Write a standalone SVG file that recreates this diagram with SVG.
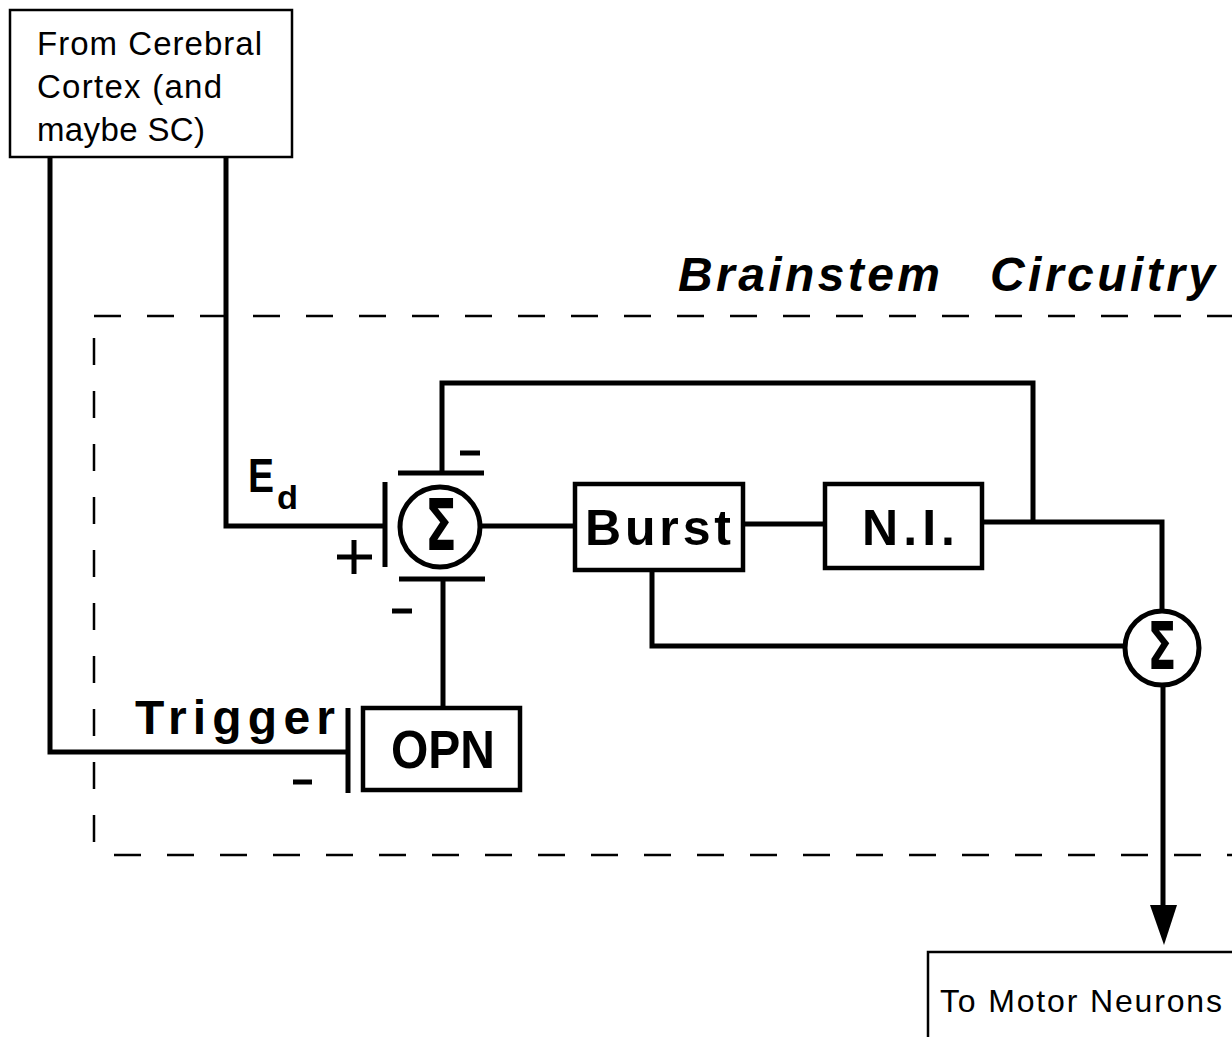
<svg xmlns="http://www.w3.org/2000/svg" width="1232" height="1037" viewBox="0 0 1232 1037">
<style>
.box{fill:#fff;stroke:#000;stroke-width:2.5}
.bbox{fill:#fff;stroke:#000;stroke-width:4.5}
.w{fill:none;stroke:#000;stroke-width:5}
.d{fill:none;stroke:#000;stroke-width:2.5;stroke-dasharray:27 26}
.t{font-family:"Liberation Sans",Arial,sans-serif;font-size:33px;fill:#000}
.b{font-family:"Liberation Sans",Arial,sans-serif;font-weight:bold;font-size:50px;fill:#000}
.sig{font-family:"DejaVu Sans","Liberation Sans",sans-serif;fill:#000;text-anchor:middle;font-weight:bold}
</style>
<rect width="1232" height="1037" fill="#fff"/>
<g id="brainstem">
<path class="d" d="M94 316H1232"/>
<path class="d" d="M94 338V850"/>
<path class="d" d="M114 855H1232"/>
<text class="b" x="678" y="291" style="font-size:48px;font-style:italic" textLength="262" lengthAdjust="spacing">Brainstem</text>
<text class="b" x="990" y="291" style="font-size:48px;font-style:italic" textLength="225" lengthAdjust="spacing">Circuitry</text>
</g>
<g id="connectors">
<path class="w" d="M50 157V752H348"/>
<path class="w" d="M226 157V526H385"/>
<path class="w" d="M482 526H575"/>
<path class="w" d="M743 524H825"/>
<path class="w" d="M982 522H1162V609"/>
<path class="w" d="M442 473V383H1033V522"/>
<path class="w" d="M443 579V707"/>
<path class="w" d="M652 570V646H1124"/>
<path class="w" d="M1163 686V910"/>
<polygon points="1150,905 1177,905 1164,945" fill="#000"/>
<path class="w" d="M385 482V567M398 473H484M399 579H485"/>
<path class="w" d="M348 708V793"/>
<path class="w" d="M337 557H372M354 540V574"/>
<path class="w" d="M460 453H480M392 611H412M293 782H312"/>
<text class="b" x="248" y="492" style="font-size:48px;font-weight:600" textLength="26" lengthAdjust="spacingAndGlyphs">E</text>
<text class="b" x="277" y="509" style="font-size:34px" textLength="21" lengthAdjust="spacingAndGlyphs">d</text>
<text class="b" x="135" y="734" style="font-size:48px" textLength="200" lengthAdjust="spacing">Trigger</text>
</g>
<g id="cortex">
<rect class="box" x="10" y="10" width="282" height="147"/>
<text class="t" x="37" y="55" textLength="225" lengthAdjust="spacing">From  Cerebral</text>
<text class="t" x="37" y="98" textLength="185" lengthAdjust="spacing">Cortex (and</text>
<text class="t" x="37" y="141" textLength="168" lengthAdjust="spacing">maybe SC)</text>
</g>
<g id="sum1">
<circle class="w" cx="440" cy="527" r="40"/>
<text class="sig" x="441" y="550" style="font-size:72px" textLength="32" lengthAdjust="spacingAndGlyphs">Σ</text>
</g>
<g id="burst">
<rect class="bbox" x="575" y="484" width="168" height="86"/>
<text class="b" x="585" y="545" textLength="146" lengthAdjust="spacing">Burst</text>
</g>
<g id="ni">
<rect class="bbox" x="825" y="484" width="157" height="84"/>
<text class="b" x="862" y="545" textLength="93" lengthAdjust="spacing">N.I.</text>
</g>
<g id="sum2">
<circle class="w" cx="1162" cy="648" r="37"/>
<text class="sig" x="1162" y="669" style="font-size:66px" textLength="29" lengthAdjust="spacingAndGlyphs">Σ</text>
</g>
<g id="opn">
<rect class="bbox" x="363" y="708" width="157" height="82"/>
<text class="b" x="391" y="768" style="font-size:54px" textLength="104" lengthAdjust="spacingAndGlyphs">OPN</text>
</g>
<g id="motor">
<rect class="box" x="928" y="952" width="320" height="120"/>
<text class="t" x="940" y="1012" style="font-size:32px" textLength="282" lengthAdjust="spacing">To Motor Neurons</text>
</g>
</svg>
